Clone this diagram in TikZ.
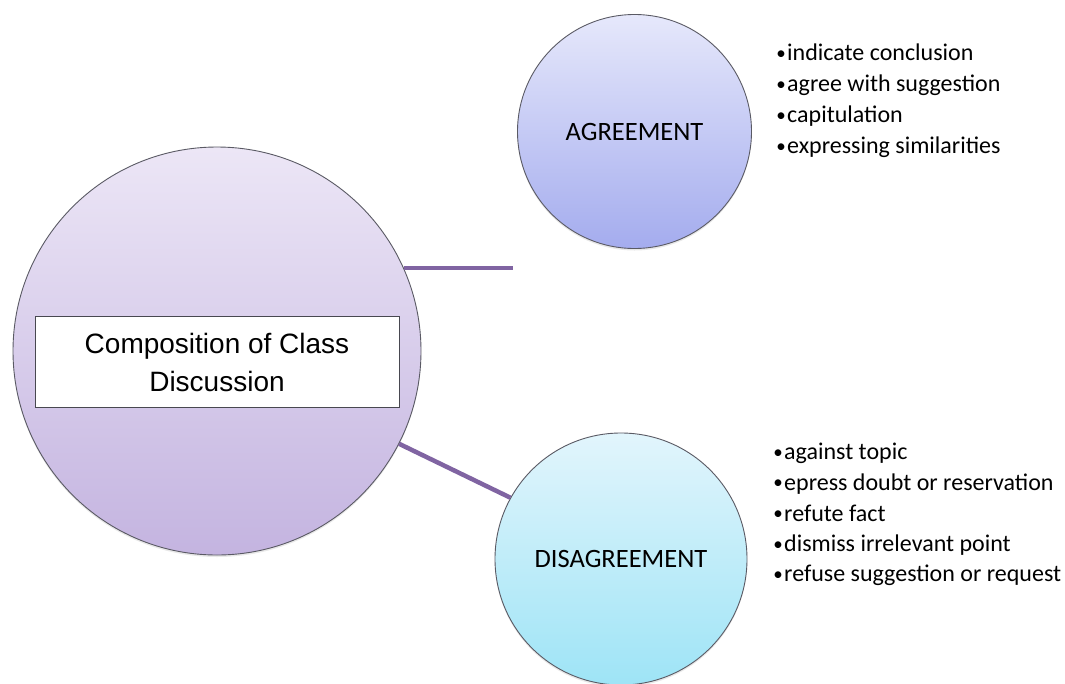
\documentclass[tikz,border=0pt]{standalone}
\usepackage{fontspec}
\setmainfont{Carlito}
\newfontfamily\arialfont{Liberation Sans}
\usetikzlibrary{shadows}
\definecolor{mainTop}{RGB}{236,230,246}
\definecolor{mainBot}{RGB}{196,180,224}
\definecolor{agrTop}{RGB}{230,232,251}
\definecolor{agrBot}{RGB}{164,172,238}
\definecolor{disTop}{RGB}{226,245,252}
\definecolor{disBot}{RGB}{158,228,246}
\definecolor{linkcol}{RGB}{128,100,162}
\definecolor{rim}{RGB}{90,90,100}
\begin{document}
\begin{tikzpicture}[x=1pt,y=-1pt,
  bubble/.style={circle, draw=rim, line width=0.9pt, inner sep=0pt,
    font=\fontsize{26.5}{30}\selectfont,
    drop shadow={opacity=0.18, shadow xshift=0pt, shadow yshift=-2pt}},
  titlebox/.style={rectangle, draw=rim!80!black, line width=0.9pt, fill=white,
    minimum width=364pt, minimum height=91pt, inner sep=0pt, align=center,
    font=\arialfont\fontsize{28}{38}\selectfont},
  link/.style={draw=linkcol, line width=4.5pt},
  item/.style={anchor=base west, inner sep=0pt, font=\fontsize{24}{28}\selectfont}
]
\newcommand{\bl}{\makebox[12pt][c]{\raisebox{1.2pt}{\fontsize{19}{20}\selectfont •}}}
\useasboundingbox[fill=white] (0,0) rectangle (1065,683);
\node[bubble, minimum size=408pt, top color=mainTop, bottom color=mainBot] (main) at (217,351) {};
\node[titlebox] (title) at (217,362) {Composition of Class\\Discussion};
\node[bubble, minimum size=234pt, top color=agrTop, bottom color=agrBot] (agr) at (634.5,131.5) {AGREEMENT};
\node[bubble, minimum size=252pt, top color=disTop, bottom color=disBot] (dis) at (621,559) {DISAGREEMENT};
\coordinate (agrEnd) at (513,268);
\draw[link] (main.24) -- (agrEnd |- main.24);
\draw[link] (main.-27) -- (dis.151);
\node[item] (a1) at (775,60.7) {\bl indicate conclusion};
\node[item] (a2) at (775,91.7) {\bl agree with suggestion};
\node[item] (a3) at (775,122.7) {\bl capitulation};
\node[item] (a4) at (775,153.3) {\bl expressing similarities};
\node[item] (d1) at (772,459.3) {\bl against topic};
\node[item] (d2) at (772,490) {\bl epress doubt or reservation};
\node[item] (d3) at (772,521) {\bl refute fact};
\node[item] (d4) at (772,551.7) {\bl dismiss irrelevant point};
\node[item] (d5) at (772,581.7) {\bl refuse suggestion or request};
\end{tikzpicture}
\end{document}
